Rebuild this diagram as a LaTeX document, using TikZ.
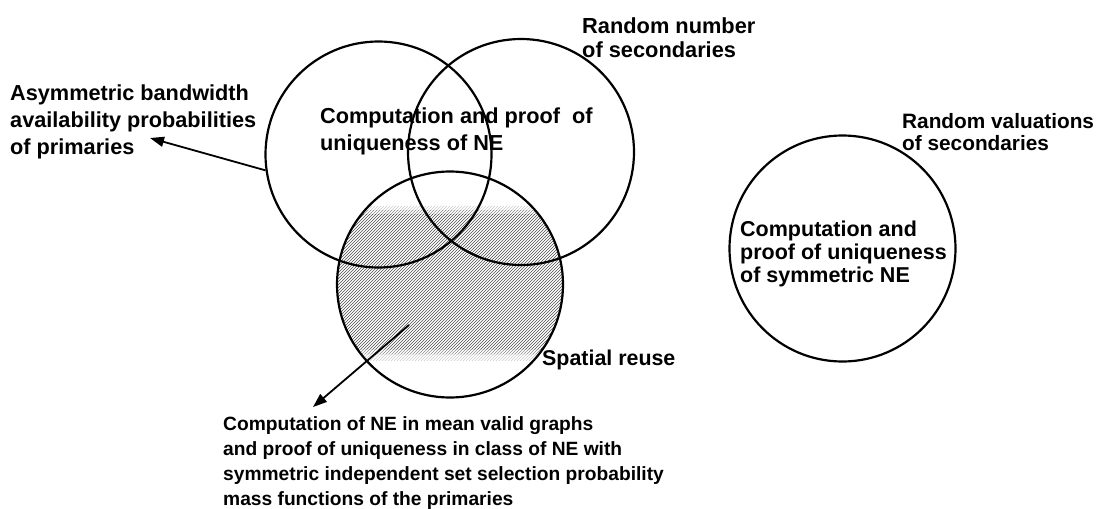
\documentclass[tikz,border=0pt]{standalone}
\usepackage{fontspec}
\setmainfont{Liberation Sans}
\usetikzlibrary{arrows.meta}
\tikzset{
  ring/.style={circle, draw, line width=2.2pt, minimum size=226pt, inner sep=0pt},
  lbl/.style={anchor=north west, inner sep=0pt, align=left, font=\bfseries},
  pointer/.style={line width=1.8pt, -{Triangle[length=14pt,width=10pt]}},
  hatch/.style={line width=0.65pt}
}
\begin{document}
\begin{tikzpicture}[x=1pt,y=-1pt]
\useasboundingbox (0,0) rectangle (1104,509);

% hatched band inside the lower circle, lighter at its upper and lower rims
\begin{scope}
  \clip (450,284.5) circle [radius=113pt];
  \foreach \ya/\yb/\col in {206/210/black!20, 210/214/black!45, 214/349/black!70, 349/354/black!45, 354/360/black!20}{
    \begin{scope}
      \clip (330,\ya) rectangle (570,\yb);
      \foreach \i in {0,3,...,420}{
        \draw[hatch,\col] (180+\i,362) -- (180+\i+157,205);
      }
    \end{scope}
  }
\end{scope}

% the four circles
\node[ring] (c1) at (378.5,154.5) {};
\node[ring] (c2) at (521,152) {};
\node[ring] (c3) at (450,284.5) {};
\node[ring] (c4) at (842.5,248.5) {};

% labels
\node[lbl, font=\bfseries\fontsize{21.7}{26.7}\selectfont] (asym) at (10,85)
  {Asymmetric bandwidth\\availability probabilities\\of primaries};
\node[lbl, font=\bfseries\fontsize{21.7}{26.7}\selectfont] (mid) at (320,108)
  {Computation and proof\ \ of\\uniqueness of NE};
\node[lbl, font=\bfseries\fontsize{21.8}{23.5}\selectfont] (rnum) at (582,18)
  {Random number\\of secondaries};
\node[lbl, font=\bfseries\fontsize{20.8}{22}\selectfont] (rval) at (902,113)
  {Random valuations\\of secondaries};
\node[lbl, font=\bfseries\fontsize{21.5}{22.7}\selectfont] (sym) at (740,221)
  {Computation and\\proof of uniqueness\\of symmetric NE};
\node[lbl, font=\bfseries\fontsize{21.4}{25}\selectfont] (spat) at (542,350)
  {Spatial reuse};
\node[lbl, font=\bfseries\fontsize{19.2}{25}\selectfont] (mean) at (223,416)
  {Computation of NE in mean valid graphs\\and proof of uniqueness in class of NE with\\symmetric independent set selection probability\\mass functions of the primaries};

% connectors
\coordinate (asymtip) at (150,138);
\coordinate (hatchpt) at (409,325);
\coordinate (meantip) at (313,407);
\draw[pointer] (c1.188) -- (asymtip);
\draw[pointer] (hatchpt) -- (meantip);
\end{tikzpicture}
\end{document}
